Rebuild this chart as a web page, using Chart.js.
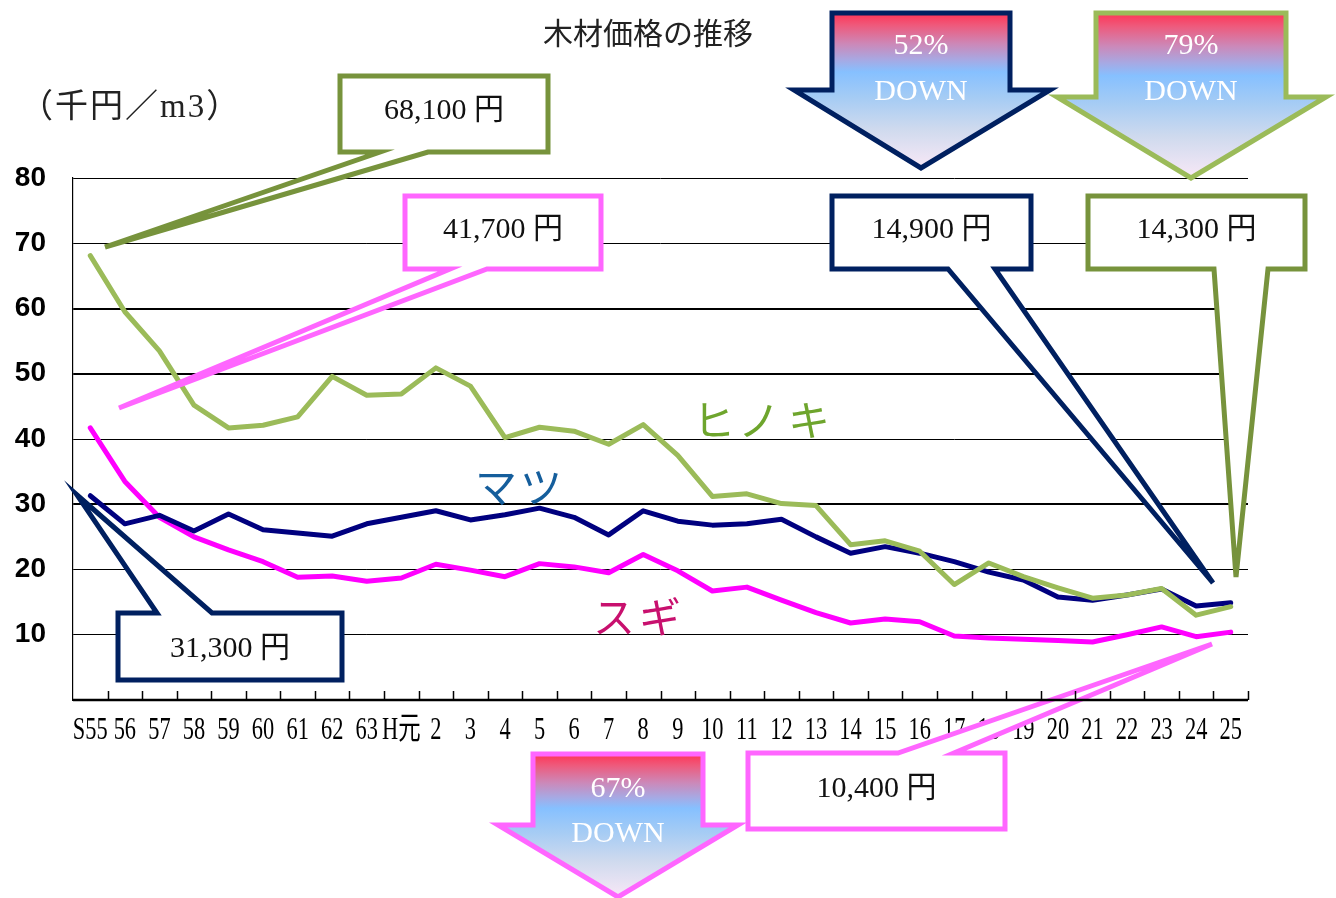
<!DOCTYPE html>
<html lang="ja">
<head>
<meta charset="utf-8">
<title>木材価格の推移</title>
<script src="https://cdn.jsdelivr.net/npm/chart.js@4.4.1/dist/chart.umd.min.js"></script>
<style>
  html, body { margin: 0; padding: 0; background: #fff; }
  canvas { display: block; }
</style>
</head>
<body>
<canvas id="chart" width="1336" height="898"></canvas>
<script>
// 年度 (S55 ... H25)
const years = ['S55', '56', '57', '58', '59', '60', '61', '62', '63', 'H元',
  '2', '3', '4', '5', '6', '7', '8', '9', '10', '11', '12', '13', '14', '15',
  '16', '17', '18', '19', '20', '21', '22', '23', '24', '25'];

// 千円/m3
const hinoki = [68.1, 59.5, 53.5, 45.2, 41.7, 42.1, 43.4, 49.6, 46.7, 46.9,
  50.9, 48.1, 40.2, 41.8, 41.2, 39.2, 42.2, 37.5, 31.2, 31.6, 30.1, 29.8,
  23.8, 24.4, 22.8, 17.7, 21.0, 18.9, 17.2, 15.6, 16.1, 17.1, 13.0, 14.3];
const matsu = [31.3, 27.0, 28.3, 25.9, 28.5, 26.1, 25.6, 25.1, 27.0, 28.0,
  29.0, 27.6, 28.4, 29.4, 28.0, 25.3, 29.0, 27.4, 26.8, 27.0, 27.7, 25.0,
  22.5, 23.5, 22.5, 21.2, 19.6, 18.4, 15.8, 15.3, 16.1, 17.0, 14.4, 14.9];
const sugi = [41.7, 33.5, 28.0, 25.0, 23.0, 21.2, 18.8, 19.0, 18.2, 18.7,
  20.8, 19.9, 18.9, 20.9, 20.4, 19.5, 22.3, 19.8, 16.7, 17.3, 15.3, 13.4,
  11.8, 12.4, 12.0, 9.8, 9.5, 9.3, 9.1, 8.9, 10.0, 11.2, 9.7, 10.4];

const yMax = 80;
const yStep = 10;

const SERIF = '"Liberation Serif", "DejaVu Serif", "Noto Sans CJK JP", serif';
const JP = '"Noto Sans CJK JP", "Noto Sans", sans-serif';

const NAVY = '#002060';
const OLIVE = '#77933C';
const PINK = '#FF66FF';

// callout boxes: box [x1,y1,x2,y2], pointer base on one side, tip
const callouts = [
  { text: '68,100 円', box: [340, 76, 548, 152], side: 'bottom', base: [380, 428], tip: [105, 247], color: OLIVE, ty: 119 },
  { text: '41,700 円', box: [405, 196, 601, 269], side: 'bottom', base: [450, 487], tip: [119, 408], color: PINK, ty: 238 },
  { text: '14,900 円', box: [832, 196, 1031, 269], side: 'bottom', base: [948, 995], tip: [1213, 583], color: NAVY, ty: 238 },
  { text: '14,300 円', box: [1088, 196, 1305, 269], side: 'bottom', base: [1214, 1268], tip: [1236, 577], color: OLIVE, ty: 238 },
  { text: '10,400 円', box: [748, 753, 1005, 829], side: 'top', base: [898, 954], tip: [1212, 644], color: PINK, ty: 797 },
  { text: '31,300 円', box: [118, 613, 342, 680], side: 'top', base: [157, 212], tip: [77, 495], color: NAVY, ty: 657 }
];

// down arrows: shaft left/right, top, shoulder y, head left/right, tip
const arrows = [
  { pct: '52%', sl: 832, sr: 1010, top: 13, sh: 90, hl: 794, hr: 1050, tip: [921, 168], color: NAVY, t1: 54, t2: 100 },
  { pct: '79%', sl: 1096, sr: 1286, top: 13, sh: 97, hl: 1057, hr: 1326, tip: [1191, 178], color: '#9BBB59', t1: 54, t2: 100 },
  { pct: '67%', sl: 533, sr: 703, top: 754, sh: 825, hl: 498, hr: 738, tip: [618, 897], color: PINK, t1: 797, t2: 842 }
];

const seriesNames = [
  { chars: ['ヒ', 'ノ', 'キ'], xs: [714, 759, 809], y: 420, color: '#6EA52D' },
  { chars: ['マ', 'ツ'], xs: [496, 541], y: 487, color: '#155E9C' },
  { chars: ['ス', 'ギ'], xs: [614, 660], y: 617, color: '#C8106E' }
];

function drawCallout(ctx, c) {
  const [x1, y1, x2, y2] = c.box;
  const [a, b] = c.base;
  ctx.beginPath();
  if (c.side === 'bottom') {
    ctx.moveTo(x1, y1); ctx.lineTo(x2, y1); ctx.lineTo(x2, y2);
    ctx.lineTo(b, y2); ctx.lineTo(c.tip[0], c.tip[1]); ctx.lineTo(a, y2);
    ctx.lineTo(x1, y2);
  } else {
    ctx.moveTo(x1, y1); ctx.lineTo(a, y1); ctx.lineTo(c.tip[0], c.tip[1]);
    ctx.lineTo(b, y1); ctx.lineTo(x2, y1); ctx.lineTo(x2, y2);
    ctx.lineTo(x1, y2);
  }
  ctx.closePath();
  ctx.fillStyle = '#fff';
  ctx.fill();
  ctx.lineWidth = 5;
  ctx.lineJoin = 'miter';
  ctx.strokeStyle = c.color;
  ctx.stroke();
  ctx.fillStyle = '#111';
  ctx.font = '30px ' + SERIF;
  ctx.textAlign = 'center';
  ctx.textBaseline = 'alphabetic';
  ctx.fillText(c.text, (x1 + x2) / 2, c.ty);
}

function drawArrow(ctx, w) {
  const g = ctx.createLinearGradient(0, w.top, 0, w.tip[1]);
  g.addColorStop(0, '#FF3355');
  g.addColorStop(0.08, '#EE5A7C');
  g.addColorStop(0.2, '#CC88B8');
  g.addColorStop(0.3, '#A8A8E2');
  g.addColorStop(0.38, '#86C0FF');
  g.addColorStop(0.55, '#A6CCF4');
  g.addColorStop(0.75, '#CFDAEE');
  g.addColorStop(1, '#F8E8F6');
  ctx.beginPath();
  ctx.moveTo(w.sl, w.top); ctx.lineTo(w.sr, w.top); ctx.lineTo(w.sr, w.sh);
  ctx.lineTo(w.hr, w.sh); ctx.lineTo(w.tip[0], w.tip[1]); ctx.lineTo(w.hl, w.sh);
  ctx.lineTo(w.sl, w.sh);
  ctx.closePath();
  ctx.fillStyle = g;
  ctx.fill();
  ctx.lineWidth = 5;
  ctx.lineJoin = 'miter';
  ctx.strokeStyle = w.color;
  ctx.stroke();
  const cx = (w.sl + w.sr) / 2;
  ctx.fillStyle = '#fff';
  ctx.font = '30px ' + SERIF;
  ctx.textAlign = 'center';
  ctx.textBaseline = 'alphabetic';
  ctx.fillText(w.pct, cx, w.t1);
  ctx.fillText('DOWN', cx, w.t2);
}

const decor = {
  id: 'decor',
  afterDraw(chart) {
    const { ctx, chartArea: area, scales: { x } } = chart;
    ctx.save();

    // condensed category labels
    ctx.fillStyle = '#000';
    ctx.textAlign = 'center';
    ctx.textBaseline = 'alphabetic';
    years.forEach((lab, i) => {
      const cx = x.getPixelForValue(i);
      ctx.save();
      ctx.translate(cx, area.bottom + 39);
      ctx.scale(0.7, 1);
      ctx.font = '32px ' + SERIF;
      ctx.fillText(lab, 0, 0);
      ctx.restore();
    });

    // series names
    ctx.font = '42px ' + JP;
    ctx.textAlign = 'center';
    ctx.textBaseline = 'middle';
    seriesNames.forEach(s => {
      ctx.fillStyle = s.color;
      s.chars.forEach((ch, k) => ctx.fillText(ch, s.xs[k], s.y));
    });

    callouts.forEach(c => drawCallout(ctx, c));
    arrows.forEach(w => drawArrow(ctx, w));

    // x axis line with inward tick marks at category boundaries
    const step = x.getPixelForValue(1) - x.getPixelForValue(0);
    ctx.strokeStyle = '#000';
    ctx.lineWidth = 1.5;
    ctx.beginPath();
    for (let i = 1; i <= years.length; i++) {
      const bx = Math.round(x.getPixelForValue(i - 1) + step / 2) + 0.5;
      ctx.moveTo(bx, area.bottom - 9);
      ctx.lineTo(bx, area.bottom);
    }
    ctx.stroke();
    ctx.lineWidth = 2.5;
    ctx.beginPath();
    ctx.moveTo(area.left, area.bottom);
    ctx.lineTo(area.right, area.bottom);
    ctx.stroke();

    // title and unit
    ctx.fillStyle = '#222';
    ctx.textAlign = 'center';
    ctx.textBaseline = 'middle';
    ctx.font = '30px ' + JP;
    ctx.fillText('木材価格の推移', 648, 33);
    ctx.textAlign = 'left';
    ctx.font = '33px ' + SERIF;
    ctx.letterSpacing = '2px';
    ctx.fillText('（千円／m3）', 20, 108);
    ctx.letterSpacing = '0px';

    ctx.restore();
  }
};

new Chart(document.getElementById('chart'), {
  type: 'line',
  data: {
    labels: years,
    datasets: [
      { label: 'ヒノキ', data: hinoki, borderColor: '#9BBB59', borderWidth: 5 },
      { label: 'マツ', data: matsu, borderColor: '#00007F', borderWidth: 5 },
      { label: 'スギ', data: sugi, borderColor: '#FF00FF', borderWidth: 5 }
    ]
  },
  options: {
    responsive: false,
    animation: false,
    devicePixelRatio: 1,
    layout: { padding: { top: 178, right: 88, left: 0, bottom: 0 } },
    elements: {
      point: { radius: 0 },
      line: { tension: 0, borderJoinStyle: 'round', borderCapStyle: 'round' }
    },
    plugins: { legend: { display: false }, tooltip: { enabled: false } },
    scales: {
      x: {
        offset: true,
        grid: { display: false },
        border: { display: false },
        ticks: { display: false },
        afterFit: s => { s.height = 198; }
      },
      y: {
        min: 0,
        max: yMax,
        ticks: {
          stepSize: yStep,
          padding: 27,
          color: '#000',
          font: { family: '"Liberation Sans", Arial, sans-serif', size: 28, weight: 'bold' },
          callback: v => (v === 0 ? '' : v)
        },
        grid: {
          color: '#000',
          drawTicks: false,
          lineWidth: c => ([30, 50, 60].includes(c.tick.value) ? 2 : 1)
        },
        border: { display: true, color: '#000', width: 1.2 },
        afterFit: s => { s.width = 73; }
      }
    }
  },
  plugins: [decor]
});
</script>
</body>
</html>
